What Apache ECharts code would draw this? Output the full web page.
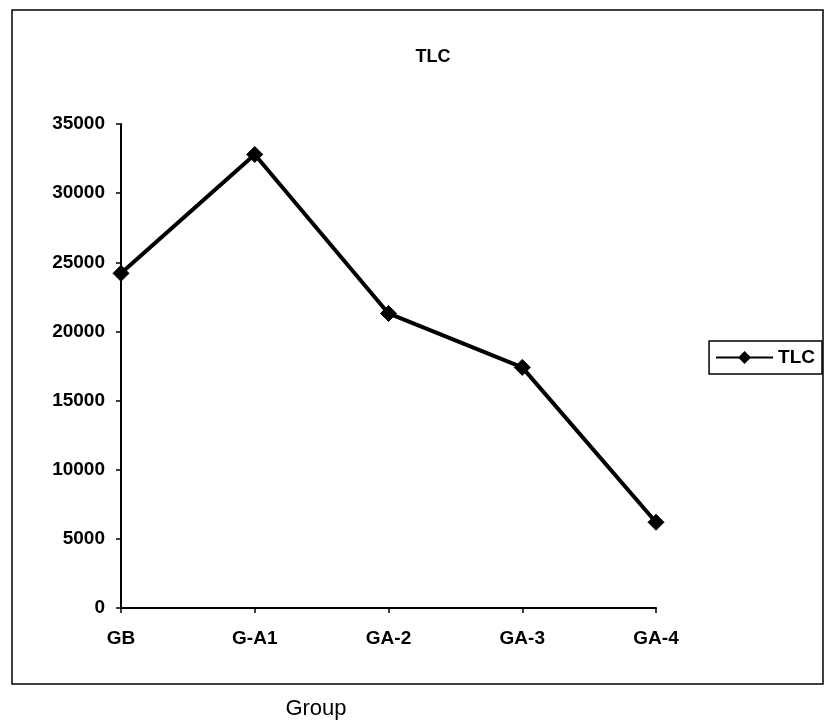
<!DOCTYPE html>
<html>
<head>
<meta charset="utf-8">
<script src="https://cdn.jsdelivr.net/npm/echarts@6/dist/echarts.min.js"></script>
<style>
  html, body { margin: 0; padding: 0; background: #fff; }
  #chart { width: 835px; height: 723px; }
</style>
</head>
<body>
<div id="chart"></div>
<script>
// Total leucocyte count by group
const groups = ['GB', 'G-A1', 'GA-2', 'GA-3', 'GA-4'];
const tlcValues = [24200, 32800, 21300, 17400, 6200];
const yTicks = [0, 5000, 10000, 15000, 20000, 25000, 30000, 35000];

const FONT = '"Liberation Sans", Arial, sans-serif';

const chart = echarts.init(document.getElementById('chart'), null, { renderer: 'canvas' });

chart.setOption({
  backgroundColor: '#fff',
  animation: false,
  title: {
    text: 'TLC',
    left: 428,
    top: 43,
    textAlign: 'center',
    textStyle: { fontFamily: FONT, fontWeight: 'bold', fontSize: 18, color: '#000' }
  },
  legend: {
    data: ['TLC'],
    right: 13,
    top: 341,
    orient: 'vertical',
    borderColor: '#000',
    borderWidth: 1.5,
    borderRadius: 0,
    padding: [7, 7, 7, 6],
    itemWidth: 57,
    itemHeight: 16,
    itemGap: 0,
    textStyle: { fontFamily: FONT, fontWeight: 'bold', fontSize: 19, color: '#000' }
  },
  grid: {
    left: 121,
    right: 835 - 656,
    top: 124,
    bottom: 723 - 608,
    containLabel: false
  },
  xAxis: {
    type: 'category',
    data: groups,
    boundaryGap: false,
    axisLine: { lineStyle: { color: '#000', width: 2 } },
    axisTick: { show: true, alignWithLabel: true, length: 5, lineStyle: { color: '#000', width: 1.5 } },
    axisLabel: { margin: 21, fontFamily: FONT, fontWeight: 'bold', fontSize: 19, color: '#000' },
    splitLine: { show: false }
  },
  yAxis: {
    type: 'value',
    min: yTicks[0],
    max: yTicks[yTicks.length - 1],
    interval: yTicks[1] - yTicks[0],
    axisLine: { show: true, lineStyle: { color: '#000', width: 2 } },
    axisTick: { show: true, length: 5, lineStyle: { color: '#000', width: 1.5 } },
    axisLabel: {
      margin: 16,
      fontFamily: FONT, fontWeight: 'bold', fontSize: 19, color: '#000',
      formatter: v => String(v)
    },
    splitLine: { show: false }
  },
  series: [{
    name: 'TLC',
    type: 'line',
    data: tlcValues,
    symbol: 'diamond',
    symbolSize: 16,
    lineStyle: { color: '#000', width: 4 },
    itemStyle: { color: '#000', borderColor: '#000' }
  }],
  graphic: [
    {
      type: 'rect',
      shape: { x: 12, y: 10, width: 811, height: 674 },
      style: { fill: null, stroke: '#000', lineWidth: 1.5 },
      z: 0
    },
    {
      type: 'text',
      x: 316,
      y: 709,
      style: {
        text: 'Group', fontFamily: FONT, fontSize: 22, fill: '#000',
        align: 'center', verticalAlign: 'middle'
      }
    }
  ]
});
</script>
</body>
</html>
